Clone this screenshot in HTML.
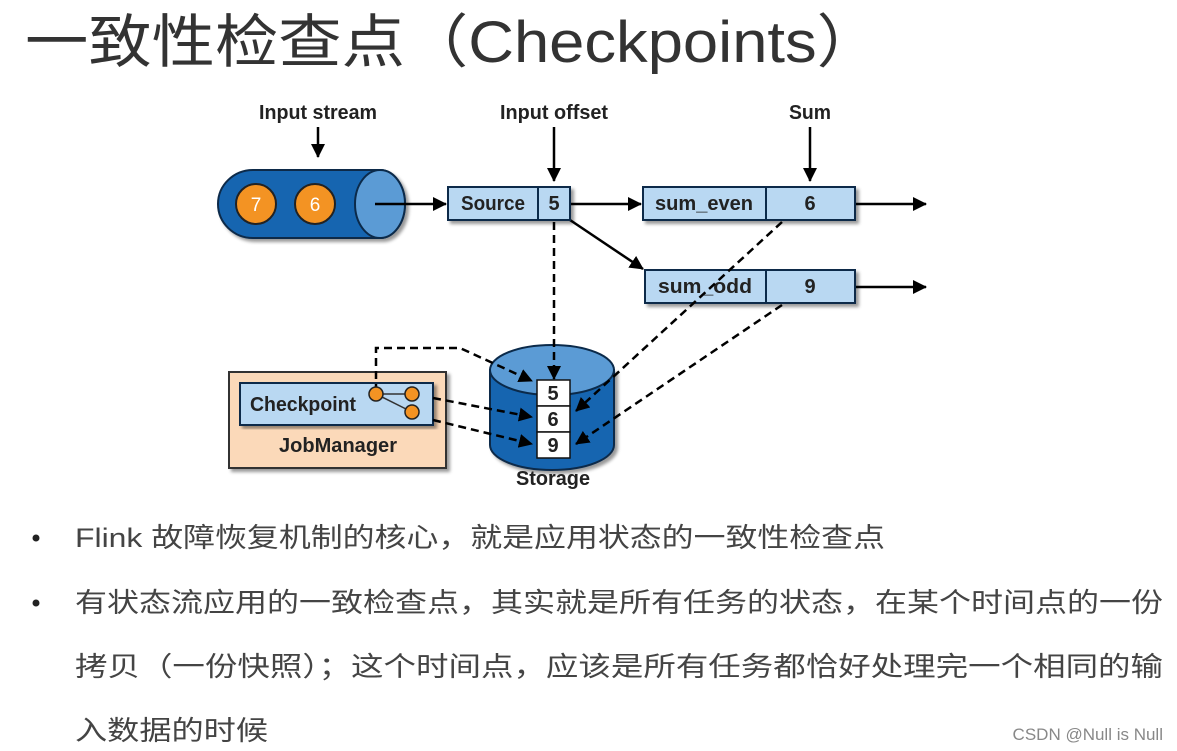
<!DOCTYPE html>
<html><head><meta charset="utf-8"><style>
html,body{margin:0;padding:0;background:#fff;}
svg{display:block;}
.cj{font-family:"Liberation Sans","Noto Sans CJK SC",sans-serif;}
.lb{font-family:"Liberation Sans",sans-serif;font-size:20px;fill:#222;font-weight:bold;}
</style></head><body>
<svg width="1177" height="751" viewBox="0 0 1177 751" xmlns="http://www.w3.org/2000/svg">
<defs>
<marker id="ah" markerWidth="14" markerHeight="14" refX="13" refY="7" orient="auto" markerUnits="userSpaceOnUse"><path d="M0,0 L14,7 L0,14 z" fill="#000"/></marker>
<filter id="sh"><feDropShadow dx="3" dy="3" stdDeviation="1.5" flood-color="#000" flood-opacity="0.4"/></filter>
</defs>
<text class="cj" x="25" y="62" font-size="58" fill="#333" textLength="855" lengthAdjust="spacingAndGlyphs">一致性检查点（Checkpoints）</text>

<text class="lb" x="318" y="119" text-anchor="middle" textLength="118" lengthAdjust="spacingAndGlyphs">Input stream</text>
<text class="lb" x="554" y="119" text-anchor="middle" textLength="108" lengthAdjust="spacingAndGlyphs">Input offset</text>
<text class="lb" x="810" y="119" text-anchor="middle" textLength="42" lengthAdjust="spacingAndGlyphs">Sum</text>
<g stroke="#000" stroke-width="2.5">
<line x1="318" y1="127" x2="318" y2="157" marker-end="url(#ah)"/>
<line x1="554" y1="127" x2="554" y2="181" marker-end="url(#ah)"/>
<line x1="810" y1="127" x2="810" y2="181" marker-end="url(#ah)"/>
</g>

<g filter="url(#sh)">
<path d="M253,170 L380,170 A25,34 0 0 1 380,238 L253,238 A35,34 0 0 1 253,170 z" fill="#1565b0" stroke="#0b2a4a" stroke-width="2"/>
</g>
<ellipse cx="380" cy="204" rx="25" ry="34" fill="#5b9bd5" stroke="#0b2a4a" stroke-width="2"/>
<circle cx="256" cy="204" r="20" fill="#f39323" stroke="#222" stroke-width="2"/>
<circle cx="315" cy="204" r="20" fill="#f39323" stroke="#222" stroke-width="2"/>
<text x="256" y="211" font-family="Liberation Sans" font-size="19" fill="#fff" text-anchor="middle">7</text>
<text x="315" y="211" font-family="Liberation Sans" font-size="19" fill="#fff" text-anchor="middle">6</text>

<g stroke="#000" stroke-width="2.5" fill="none">
<line x1="375" y1="204" x2="446" y2="204" marker-end="url(#ah)"/>
<line x1="570" y1="204" x2="641" y2="204" marker-end="url(#ah)"/>
<line x1="570" y1="220" x2="643" y2="269" marker-end="url(#ah)"/>
<line x1="855" y1="204" x2="926" y2="204" marker-end="url(#ah)"/>
<line x1="855" y1="287" x2="926" y2="287" marker-end="url(#ah)"/>
</g>

<g filter="url(#sh)" stroke="#0b2a4a" stroke-width="2" fill="#b9d8f2">
<rect x="448" y="187" width="122" height="33"/>
<rect x="643" y="187" width="212" height="33"/>
<rect x="645" y="270" width="210" height="33"/>
</g>
<g stroke="#0b2a4a" stroke-width="2">
<line x1="538" y1="187" x2="538" y2="220"/>
<line x1="766" y1="187" x2="766" y2="220"/>
<line x1="766" y1="270" x2="766" y2="303"/>
</g>
<text class="lb" x="493" y="210" text-anchor="middle" textLength="64" lengthAdjust="spacingAndGlyphs">Source</text>
<text class="lb" x="554" y="210" text-anchor="middle">5</text>
<text class="lb" x="704" y="210" text-anchor="middle" textLength="98" lengthAdjust="spacingAndGlyphs">sum_even</text>
<text class="lb" x="810" y="210" text-anchor="middle">6</text>
<text class="lb" x="705" y="293" text-anchor="middle" textLength="94" lengthAdjust="spacingAndGlyphs">sum_odd</text>
<text class="lb" x="810" y="293" text-anchor="middle">9</text>

<rect x="229" y="372" width="217" height="96" fill="#fbd9b9" stroke="#333" stroke-width="2" filter="url(#sh)"/>
<rect x="240" y="383" width="193" height="42" fill="#b9d8f2" stroke="#0b2a4a" stroke-width="2" filter="url(#sh)"/>
<text class="lb" x="250" y="411" textLength="106" lengthAdjust="spacingAndGlyphs">Checkpoint</text>
<text class="lb" x="338" y="452" text-anchor="middle" textLength="118" lengthAdjust="spacingAndGlyphs">JobManager</text>

<g filter="url(#sh)">
<path d="M490,370 L490,445 A62,25 0 0 0 614,445 L614,370 z" fill="#1565b0" stroke="#0b2a4a" stroke-width="2"/>
</g>
<ellipse cx="552" cy="370" rx="62" ry="25" fill="#5b9bd5" stroke="#0b2a4a" stroke-width="2"/>
<g fill="#fff" stroke="#111" stroke-width="1.5">
<rect x="537" y="380" width="33" height="26"/>
<rect x="537" y="406" width="33" height="26"/>
<rect x="537" y="432" width="33" height="26"/>
</g>
<text class="lb" x="553" y="400" text-anchor="middle">5</text>
<text class="lb" x="553" y="426" text-anchor="middle">6</text>
<text class="lb" x="553" y="452" text-anchor="middle">9</text>
<text class="lb" x="553" y="485" text-anchor="middle" textLength="74" lengthAdjust="spacingAndGlyphs">Storage</text>

<g stroke="#000" stroke-width="2.5" fill="none" stroke-dasharray="8,5">
<line x1="554" y1="222" x2="554" y2="379" marker-end="url(#ah)"/>
<path d="M376,392 L376,348 L460,348 L532,381" marker-end="url(#ah)"/>
<line x1="433" y1="398" x2="532" y2="417" marker-end="url(#ah)"/>
<line x1="433" y1="420" x2="532" y2="444" marker-end="url(#ah)"/>
<line x1="782" y1="222" x2="576" y2="411" marker-end="url(#ah)"/>
<line x1="782" y1="305" x2="576" y2="444" marker-end="url(#ah)"/>
</g>
<g stroke="#333" stroke-width="1.5">
<line x1="376" y1="394" x2="410" y2="394"/>
<line x1="376" y1="394" x2="410" y2="411"/>
</g>
<circle cx="376" cy="394" r="7" fill="#f39323" stroke="#222" stroke-width="1.5"/>
<circle cx="412" cy="394" r="7" fill="#f39323" stroke="#222" stroke-width="1.5"/>
<circle cx="412" cy="412" r="7" fill="#f39323" stroke="#222" stroke-width="1.5"/>

<g fill="#222">
<circle cx="36" cy="538" r="3.5"/>
<circle cx="36" cy="603" r="3.5"/>
</g>
<g class="cj" font-size="27" fill="#444">
<text x="75" y="547" textLength="810" lengthAdjust="spacingAndGlyphs">Flink 故障恢复机制的核心，就是应用状态的一致性检查点</text>
<text x="75" y="612" textLength="1088" lengthAdjust="spacingAndGlyphs">有状态流应用的一致检查点，其实就是所有任务的状态，在某个时间点的一份</text>
<text x="75" y="676" textLength="1088" lengthAdjust="spacingAndGlyphs">拷贝（一份快照）；这个时间点，应该是所有任务都恰好处理完一个相同的输</text>
<text x="75" y="740" textLength="193" lengthAdjust="spacingAndGlyphs">入数据的时候</text>
</g>
<text x="1163" y="740" font-family="Liberation Sans" font-size="17" fill="#888" text-anchor="end">CSDN @Null is Null</text>
</svg>
</body></html>
